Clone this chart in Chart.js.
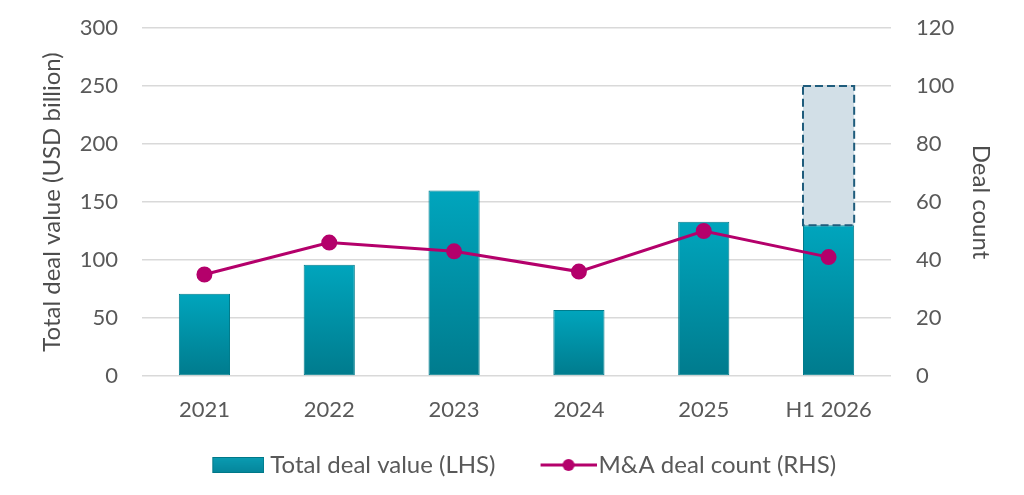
<!DOCTYPE html>
<html>
<head>
<meta charset="utf-8">
<script src="https://cdn.jsdelivr.net/npm/chart.js@4.4.1/dist/chart.umd.min.js"></script>
<style>
  html, body { margin: 0; padding: 0; background: #fff; }
  #wrap { width: 1024px; height: 495px; }
</style>
</head>
<body>
<div id="wrap"><canvas id="dealChart"></canvas></div>
<script>
// data
const categories = ['2021', '2022', '2023', '2024', '2025', 'H1 2026'];
const dealValue = [71, 96, 160, 57, 133, 130];
const projectedValue = [null, null, null, null, null, 120];
const dealCount = [35, 46, 43, 36, 50, 41];
const leftTicks = [0, 50, 100, 150, 200, 250, 300];
const rightTicks = [0, 20, 40, 60, 80, 100, 120];

const teal = '#0094AA';
const magenta = '#B4006B';
const grey = '#595959';
const fontFamily = 'Lato, "Liberation Sans", sans-serif';

// legend symbols: the visible part sits at the right of a wider canvas,
// so it ends close to the label text
function barSymbol() {
    let c = document.createElement('canvas');
    c.width = 73; c.height = 16;
    let g = c.getContext('2d');
    let grad = g.createLinearGradient(0, 0, 0, 16);
    grad.addColorStop(0, '#0A9CB2');
    grad.addColorStop(1, '#05859A');
    g.fillStyle = grad;
    g.fillRect(21, 0, 52, 16);
    g.strokeStyle = '#007888';
    g.lineWidth = 1;
    g.strokeRect(21.5, 0.5, 51, 15);
    return c;
}
function lineSymbol() {
    let c = document.createElement('canvas');
    c.width = 81; c.height = 14;
    let g = c.getContext('2d');
    g.strokeStyle = magenta;
    g.lineWidth = 3;
    g.beginPath(); g.moveTo(25, 7); g.lineTo(81, 7); g.stroke();
    g.fillStyle = magenta;
    g.beginPath(); g.arc(53, 7, 6, 0, Math.PI * 2); g.fill();
    return c;
}

function barGradient(context) {
    const chart = context.chart;
    const y = chart.scales.y;
    if (!y || context.raw == null) return teal;
    const top = y.getPixelForValue(context.raw);
    const bottom = y.getPixelForValue(0);
    if (!isFinite(top) || !isFinite(bottom) || top === bottom) return teal;
    const grad = chart.ctx.createLinearGradient(0, top, 0, bottom);
    grad.addColorStop(0, '#00A5BD');
    grad.addColorStop(1, '#007B8D');
    return grad;
}

// vertical axes: fixed width, no extra room above/below for the end labels
function fixAxis(width) {
    return function (axis) {
        axis.width = width;
        axis.paddingTop = 0;
        axis.paddingBottom = 0;
    };
}

// dashed outline around the projected segment
const dashedOutline = {
    id: 'dashedOutline',
    afterDatasetsDraw(chart) {
        const meta = chart.getDatasetMeta(2);
        const ctx = chart.ctx;
        meta.data.forEach(function (bar, i) {
            if (projectedValue[i] == null) return;
            const p = bar.getProps(['x', 'y', 'base', 'width'], true);
            ctx.save();
            ctx.strokeStyle = '#1F5C7C';
            ctx.lineWidth = 2;
            ctx.setLineDash([8, 4]);
            ctx.strokeRect(p.x - p.width / 2, p.y, p.width, p.base - p.y);
            ctx.restore();
        });
    }
};

const ctx = document.getElementById('dealChart').getContext('2d');
new Chart(ctx, {
    data: {
        labels: categories,
        datasets: [
            {
                type: 'line',
                label: 'M&A deal count (RHS)',
                data: dealCount,
                yAxisID: 'y1',
                borderColor: magenta,
                backgroundColor: magenta,
                borderWidth: 3,
                pointRadius: 6.5,
                pointHoverRadius: 6.5,
                tension: 0,
                order: 0
            },
            {
                type: 'bar',
                label: 'Total deal value (LHS)',
                data: dealValue,
                yAxisID: 'y',
                stack: 'value',
                backgroundColor: barGradient,
                borderColor: '#007C8C',
                borderWidth: 1,
                borderSkipped: false,
                barPercentage: 0.82,
                categoryPercentage: 0.5,
                order: 1
            },
            {
                type: 'bar',
                label: 'Projected',
                data: projectedValue,
                yAxisID: 'y',
                stack: 'value',
                backgroundColor: '#D2DFE7',
                borderWidth: 0,
                barPercentage: 0.82,
                categoryPercentage: 0.5,
                order: 2
            }
        ]
    },
    options: {
        responsive: true,
        maintainAspectRatio: false,
        animation: false,
        layout: { padding: { left: 38, right: 28.6, top: 28, bottom: 8 } },
        plugins: {
            tooltip: { enabled: false },
            legend: {
                position: 'bottom',
                labels: {
                    usePointStyle: true,
                    pointStyleWidth: 61,
                    boxHeight: 16,
                    padding: 30,
                    color: grey,
                    font: { family: fontFamily, size: 24 },
                    generateLabels: function (chart) {
                        return [
                            { text: 'Total deal value (LHS)', pointStyle: barSymbol(), fillStyle: teal, strokeStyle: teal, lineWidth: 0, fontColor: grey, datasetIndex: 1 },
                            { text: 'M&A deal count (RHS)', pointStyle: lineSymbol(), fillStyle: magenta, strokeStyle: magenta, lineWidth: 0, fontColor: grey, datasetIndex: 0 }
                        ];
                    }
                }
            }
        },
        scales: {
            x: {
                stacked: true,
                grid: { display: false, drawTicks: false },
                border: { display: false },
                ticks: { color: grey, font: { family: fontFamily, size: 22 }, padding: 21 },
                afterFit: function (axis) { axis.height = 47; }
            },
            y: {
                position: 'left',
                stacked: true,
                min: 0,
                max: 300,
                afterBuildTicks: function (axis) { axis.ticks = leftTicks.map(v => ({ value: v })); },
                grid: { color: '#D9D9D9', lineWidth: 1.5, drawTicks: false },
                border: { display: false },
                ticks: { color: grey, font: { family: fontFamily, size: 22 }, padding: 24 },
                title: { display: true, text: 'Total deal value (USD billion)', color: '#4D4D4D', font: { family: fontFamily, size: 24 }, padding: 0 },
                afterFit: fixAxis(104)
            },
            y1: {
                position: 'right',
                min: 0,
                max: 120,
                afterBuildTicks: function (axis) { axis.ticks = rightTicks.map(v => ({ value: v })); },
                grid: { display: false, drawTicks: false },
                border: { display: false },
                ticks: { color: grey, font: { family: fontFamily, size: 22 }, padding: 25 },
                title: { display: true, text: 'Deal count', color: '#4D4D4D', font: { family: fontFamily, size: 24 }, padding: 0 },
                afterFit: fixAxis(104.4)
            }
        }
    },
    plugins: [dashedOutline]
});
</script>
</body>
</html>
